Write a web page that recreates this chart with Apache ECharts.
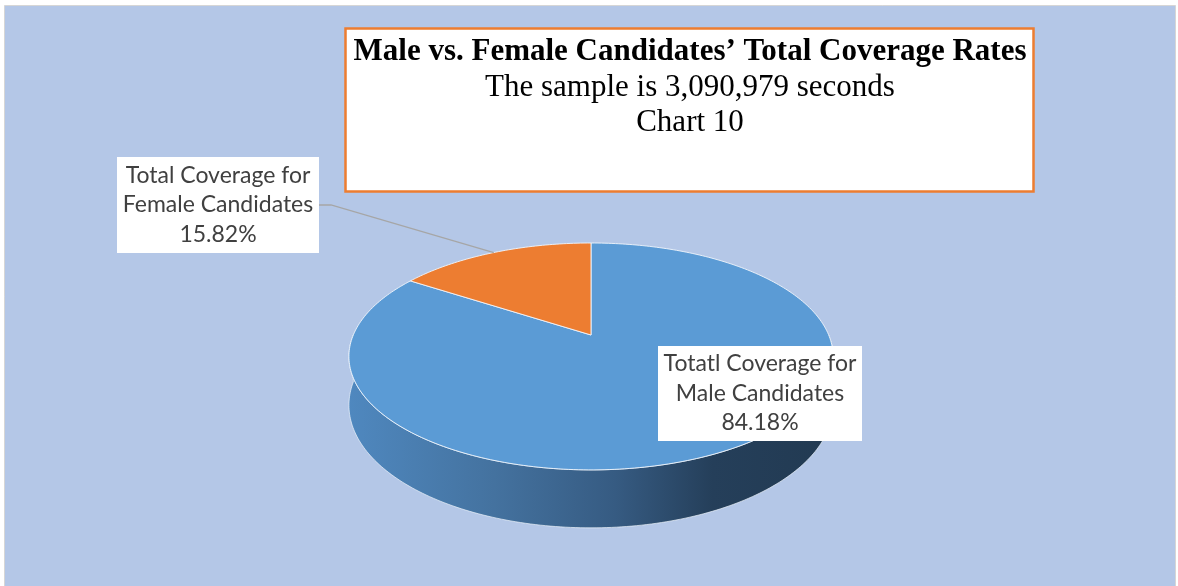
<!DOCTYPE html>
<html>
<head>
<meta charset="utf-8">
<script src="https://cdn.jsdelivr.net/npm/echarts@6/dist/echarts.min.js"></script>
<style>
  html, body { margin: 0; padding: 0; background: #fff; }
  #chart { width: 1178px; height: 586px; }
</style>
</head>
<body>
<div id="chart"></div>
<script>
// data
const categories = ['Totatl Coverage for\nMale Candidates', 'Total Coverage for\nFemale Candidates'];
const shares = [84.18, 15.82];
const titleLines = [
  "Male vs. Female Candidates\u2019 Total Coverage Rates",
  'The sample is 3,090,979 seconds',
  'Chart 10'
];

// look
const topColors = ['#5B9BD5', '#ED7D31'];
const labelBoxes = [
  { x: 658, y: 346, w: 204, h: 95, leader: false },
  { x: 117, y: 157, w: 202, h: 96, leader: true }
];
// 3d pie geometry (projected circle, slight perspective)
const cx = 591, cy = 335, rxA = 237.7, ryB = 109.4, persp = 0.189, depth = 47;

function proj(deg, r, drop) {
  const t = deg * Math.PI / 180;
  const u = r * Math.sin(t), v = -r * Math.cos(t);
  const w = 1 / (1 - persp * v);
  return [cx + rxA * u * w, cy + ryB * v * w + (drop ? depth * w : 0)];
}
function arc(from, to, drop) {
  const pts = [];
  const n = Math.max(2, Math.ceil(Math.abs(to - from)));
  for (let i = 0; i <= n; i++) pts.push(proj(from + (to - from) * i / n, 1, drop));
  return pts;
}

const total = shares.reduce((a, b) => a + b, 0);
let acc = 0;
const sliceData = shares.map((v, i) => {
  const s = acc / total * 360;
  acc += v;
  const e = acc / total * 360;
  return { name: categories[i], value: [s, e, v] };
});

const chart = echarts.init(document.getElementById('chart'));

const serif = '"Liberation Serif", "Times New Roman", serif';
const option = {
  backgroundColor: '#ffffff',
  animation: false,
  graphic: [
    {
      type: 'rect', z: -10, silent: true,
      shape: { x: 4.5, y: 5.5, width: 1171, height: 600 },
      style: { fill: '#B4C7E7', stroke: '#d6d6d6', lineWidth: 1 }
    },
    {
      type: 'rect', z: 1, silent: true,
      shape: { x: 345.5, y: 28.5, width: 688, height: 163 },
      style: { fill: '#ffffff', stroke: '#ED7D31', lineWidth: 2.5 }
    },
    {
      type: 'text', z: 2, silent: true,
      style: { text: titleLines[0], x: 690, y: 52, align: 'center', verticalAlign: 'middle',
        fontFamily: serif, fontSize: 31, fontWeight: 'bold', fill: '#000' }
    },
    {
      type: 'text', z: 2, silent: true,
      style: { text: titleLines[1], x: 690, y: 88, align: 'center', verticalAlign: 'middle',
        fontFamily: serif, fontSize: 31, fill: '#000' }
    },
    {
      type: 'text', z: 2, silent: true,
      style: { text: titleLines[2], x: 690, y: 123, align: 'center', verticalAlign: 'middle',
        fontFamily: serif, fontSize: 31, fill: '#000' }
    }
  ],
  series: [
    {
      // side walls
      type: 'custom', coordinateSystem: 'none', z: 2, silent: true,
      data: sliceData,
      renderItem: function (params, api) {
        const s = api.value(0), e = api.value(1);
        const lo = Math.max(s, 90), hi = Math.min(e, 270);
        if (lo >= hi) return null;
        const pts = arc(lo, hi, false).concat(arc(hi, lo, true));
        return {
          type: 'polygon',
          shape: { points: pts },
          style: {
            fill: new echarts.graphic.LinearGradient(0, 0, 1, 0, [
              { offset: 0, color: '#4f88bf' },
              { offset: 0.3, color: '#44729f' },
              { offset: 0.55, color: '#365b82' },
              { offset: 0.75, color: '#253f5a' },
              { offset: 1, color: '#223a52' }
            ]),
            stroke: 'rgba(235,242,250,0.7)', lineWidth: 1
          }
        };
      }
    },
    {
      // top faces
      type: 'custom', coordinateSystem: 'none', z: 3, silent: true,
      data: sliceData,
      renderItem: function (params, api) {
        const s = api.value(0), e = api.value(1);
        const pts = [[cx, cy]].concat(arc(s, e, false));
        return {
          type: 'polygon',
          shape: { points: pts },
          style: { fill: topColors[params.dataIndex], stroke: 'rgba(240,245,252,0.9)', lineWidth: 1 }
        };
      }
    },
    {
      // data labels
      type: 'custom', coordinateSystem: 'none', z: 5, silent: true,
      data: sliceData,
      renderItem: function (params, api) {
        const i = params.dataIndex;
        const b = labelBoxes[i];
        const pct = (api.value(2) / total * 100).toFixed(2) + '%';
        const children = [];
        if (b.leader) {
          const mid = (api.value(0) + api.value(1)) / 2;
          const p = proj(mid, 1, false);
          const yy = b.y + b.h / 2;
          children.push({
            type: 'polyline',
            shape: { points: [[b.x + b.w, yy], [b.x + b.w + 12, yy], p] },
            style: { stroke: '#a6a6a6', lineWidth: 1.3, fill: null }
          });
        }
        children.push({
          type: 'rect',
          shape: { x: b.x, y: b.y, width: b.w, height: b.h },
          style: { fill: '#ffffff' }
        });
        children.push({
          type: 'text',
          style: {
            text: categories[i] + '\n' + pct,
            x: b.x + b.w / 2, y: b.y + b.h / 2,
            align: 'center', verticalAlign: 'middle',
            fontFamily: 'Lato, "Open Sans", sans-serif', fontSize: 23, lineHeight: 29.5,
            fill: '#404040'
          }
        });
        return { type: 'group', children: children };
      }
    }
  ]
};

chart.setOption(option);
</script>
</body>
</html>
